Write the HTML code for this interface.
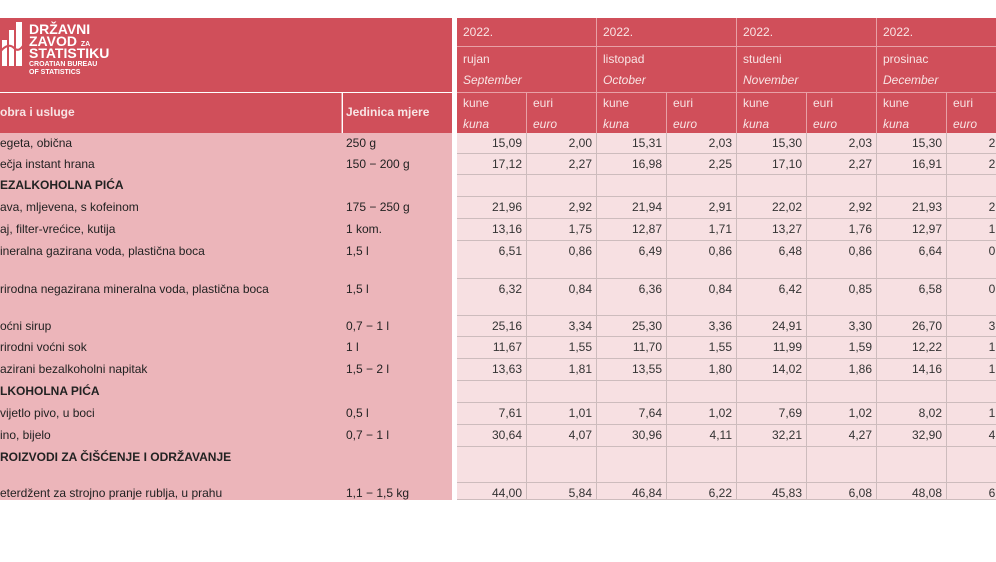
<!DOCTYPE html>
<html><head><meta charset="utf-8">
<style>
body{margin:0;width:996px;height:562px;overflow:hidden;background:#fff;font-family:"Liberation Sans",sans-serif;position:relative}
.a{position:absolute;box-sizing:border-box;white-space:nowrap;overflow:hidden}
.hd{background:#d04f5a;color:#f8e4e4;font-size:12px}
.lf{background:#ecb5ba;color:#222;font-size:12px}
.rc{background:#f7e0e2;color:#333;font-size:12px;text-align:right;padding-right:4px;border-right:1px solid #cdbcbd;border-bottom:1px solid #cdbcbd}
.b{font-weight:bold}
i{font-style:italic}
.lg{position:absolute;color:#fff;font-weight:bold;white-space:nowrap}
</style></head><body>
<div class="a hd" style="left:0;top:18px;width:452px;height:74px">
<svg class="a" style="left:0;top:4px" width="26" height="44"><rect x="2" y="18" width="5" height="26" fill="#fff"/><rect x="9" y="8" width="5" height="36" fill="#fff"/><rect x="16" y="0" width="6" height="44" fill="#fff"/><path d="M0 30 Q8 20 14 26 T26 18" stroke="#d04f5a" stroke-width="2" fill="none"/></svg>
<div class="lg" style="left:29px;top:5px;font-size:14px;line-height:13px">DRŽAVNI</div>
<div class="lg" style="left:29px;top:17px;font-size:14px;line-height:13px">ZAVOD <span style="font-size:7px">ZA</span></div>
<div class="lg" style="left:29px;top:29px;font-size:14px;line-height:13px">STATISTIKU</div>
<div class="lg" style="left:29px;top:43px;font-size:7px;line-height:8px">CROATIAN BUREAU<br>OF STATISTICS</div>
</div>
<div class="a hd b" style="left:0;top:93px;width:342px;height:40px;padding:12px 0 0 0;border-right:1px solid #e49aa0">obra i usluge</div>
<div class="a hd b" style="left:343px;top:93px;width:109px;height:40px;padding:12px 0 0 3px">Jedinica mjere</div>
<div id="root"></div>
<script>
const years=["2022.","2022.","2022.","2022."];
const monthsHr=["rujan","listopad","studeni","prosinac"];
const monthsEn=["September","October","November","December"];
const names=["egeta, obična","ečja instant hrana","EZALKOHOLNA PIĆA","ava, mljevena, s kofeinom","aj, filter-vrećice, kutija","ineralna gazirana voda, plastična boca","rirodna negazirana mineralna voda, plastična boca","oćni sirup","rirodni voćni sok","azirani bezalkoholni napitak","LKOHOLNA PIĆA","vijetlo pivo, u boci","ino, bijelo","ROIZVODI ZA ČIŠĆENJE I ODRŽAVANJE","eterdžent za strojno pranje rublja, u prahu"];
const units=["250 g","150 − 200 g","","175 − 250 g","1 kom.","1,5 l","1,5 l","0,7 − 1 l","1 l","1,5 − 2 l","","0,5 l","0,7 − 1 l","","1,1 − 1,5 kg"];
const values=[
["15,09","2,00","15,31","2,03","15,30","2,03","15,30","2,03"],
["17,12","2,27","16,98","2,25","17,10","2,27","16,91","2,24"],
null,
["21,96","2,92","21,94","2,91","22,02","2,92","21,93","2,91"],
["13,16","1,75","12,87","1,71","13,27","1,76","12,97","1,72"],
["6,51","0,86","6,49","0,86","6,48","0,86","6,64","0,88"],
["6,32","0,84","6,36","0,84","6,42","0,85","6,58","0,87"],
["25,16","3,34","25,30","3,36","24,91","3,30","26,70","3,54"],
["11,67","1,55","11,70","1,55","11,99","1,59","12,22","1,62"],
["13,63","1,81","13,55","1,80","14,02","1,86","14,16","1,88"],
null,
["7,61","1,01","7,64","1,02","7,69","1,02","8,02","1,06"],
["30,64","4,07","30,96","4,11","32,21","4,27","32,90","4,37"],
null,
["44,00","5,84","46,84","6,22","45,83","6,08","48,08","6,38"]];
const rowTops=[133,154,175,197,219,241,279,316,337,359,381,403,425,447,483,500];
const root=document.getElementById('root');
function box(cls,x,y,w,h,html,pad){const d=document.createElement('div');d.className='a '+cls;d.style.cssText=`left:${x}px;top:${y}px;width:${w}px;height:${h}px;`+(pad||'');d.innerHTML=html;root.appendChild(d);return d;}
for(let m=0;m<4;m++){const x=457+m*140;
let e=box('hd',x,18,140,29,years[m],'padding:7px 0 0 6px;border-right:1px solid #e8a0a6;border-bottom:1px solid #e8a0a6');

e=box('hd',x,47,140,46,monthsHr[m]+'<br><i>'+monthsEn[m]+'</i>','padding:2px 0 0 6px;line-height:21px;border-right:1px solid #e8a0a6;border-bottom:1px solid #e8a0a6');

for(let s=0;s<2;s++){e=box('hd',x+s*70,93,70,40,(s?'euri<br><i>euro</i>':'kune<br><i>kuna</i>'),'padding:0 0 0 6px;line-height:21px;border-right:1px solid #e8a0a6');
}}
for(let r=0;r<names.length;r++){const y=rowTops[r],h=rowTops[r+1]-y,bold=values[r]===null;
let e=box('lf'+(bold?' b':''),0,y,343,h,names[r],'padding-top:3px');

e=box('lf',343,y,109,h,units[r],'padding:3px 0 0 3px');

for(let c=0;c<8;c++){e=box('rc',457+c*70,y,70,h,values[r]?values[r][c]:'','padding-top:3px');
}}
</script>
</body></html>
